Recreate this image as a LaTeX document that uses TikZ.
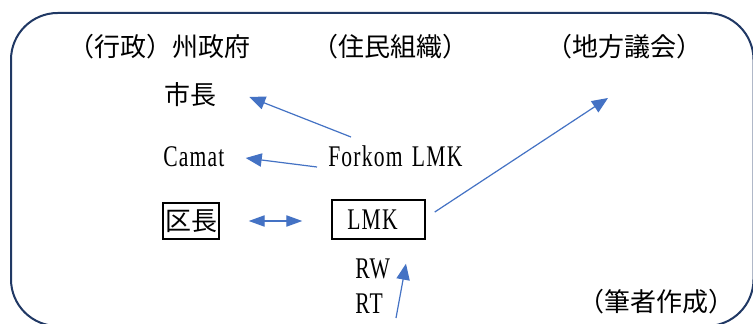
\documentclass[tikz,border=0pt]{standalone}
\usepackage{fontspec}
\newfontfamily\jp{Noto Sans CJK JP}
\newfontfamily\lat{Liberation Serif}[FakeStretch=0.72,LetterSpace=4]
\usetikzlibrary{arrows.meta}
\definecolor{framecol}{HTML}{203864}
\definecolor{arrcol}{HTML}{4472C4}
\begin{document}
\begin{tikzpicture}[x=0.75pt,y=-0.75pt,
  jptext/.style={font=\jp\fontsize{19.5pt}{20pt}\selectfont, inner sep=0pt},
  lattext/.style={font=\lat\fontsize{22.5pt}{24pt}\selectfont, inner sep=0pt},
  boxed/.style={draw=black, line width=1.1pt, inner sep=0pt},
  conn/.style={draw=arrcol, line width=0.9pt, -{Triangle[length=12pt,width=10pt]}},
  dconn/.style={draw=arrcol, line width=0.9pt, {Triangle[length=12pt,width=8.5pt]}-{Triangle[length=12pt,width=8.5pt]}}
]
\useasboundingbox (0,0) rectangle (753,324);
\fill[white] (0,0) rectangle (753,324);
\draw[framecol, line width=1.5pt, rounded corners=35pt] (11,13) rectangle (753.5,326);

% headings
\node[jptext, anchor=east] (gyosei) at (251,47) {（行政）州政府};
\node[jptext] (jumin) at (390,47) {（住民組織）};
\node[jptext] (gikai) at (624,47) {（地方議会）};
\node[jptext] (source) at (656,302) {（筆者作成）};

% items
\node[jptext] (mayor) at (190,95) {市長};
\node[lattext, anchor=base west] (camat) at (163,167) {Camat};
\node[lattext, anchor=base west] (forkom) at (328,167) {Forkom\kern7pt LMK};
\node[jptext, boxed, minimum width=42pt, minimum height=27pt] (kucho) at (191,221) {区長};
\node[lattext, boxed, minimum width=69.75pt, minimum height=29.25pt] (lmk) at (378.5,219.5) {LMK\kern9pt};
\node[lattext, anchor=base west] (rw) at (355,278) {RW};
\node[lattext, anchor=base west] (rt) at (355,313) {RT};
\coordinate (gikaipt) at (608,98);

% connectors
\draw[conn] ([xshift=17.25pt,yshift=22.5pt]forkom.base west) -- ([xshift=24.75pt,yshift=-1.5pt]mayor.east);
\draw[conn] ([xshift=-8.25pt]forkom.base west) -- ([xshift=15.75pt,yshift=6.75pt]camat.base east);
\draw[dconn] ([xshift=21.75pt]kucho.east) -- ([xshift=-21.75pt]kucho.east -| lmk.west);
\draw[conn] ([xshift=6.75pt,yshift=5.6pt]lmk.east) -- (gikaipt);
\draw[conn] ([xshift=30.75pt,yshift=-3.75pt]rt.base west) -- ([xshift=20.6pt,yshift=-18pt]lmk.south);
\end{tikzpicture}
\end{document}
